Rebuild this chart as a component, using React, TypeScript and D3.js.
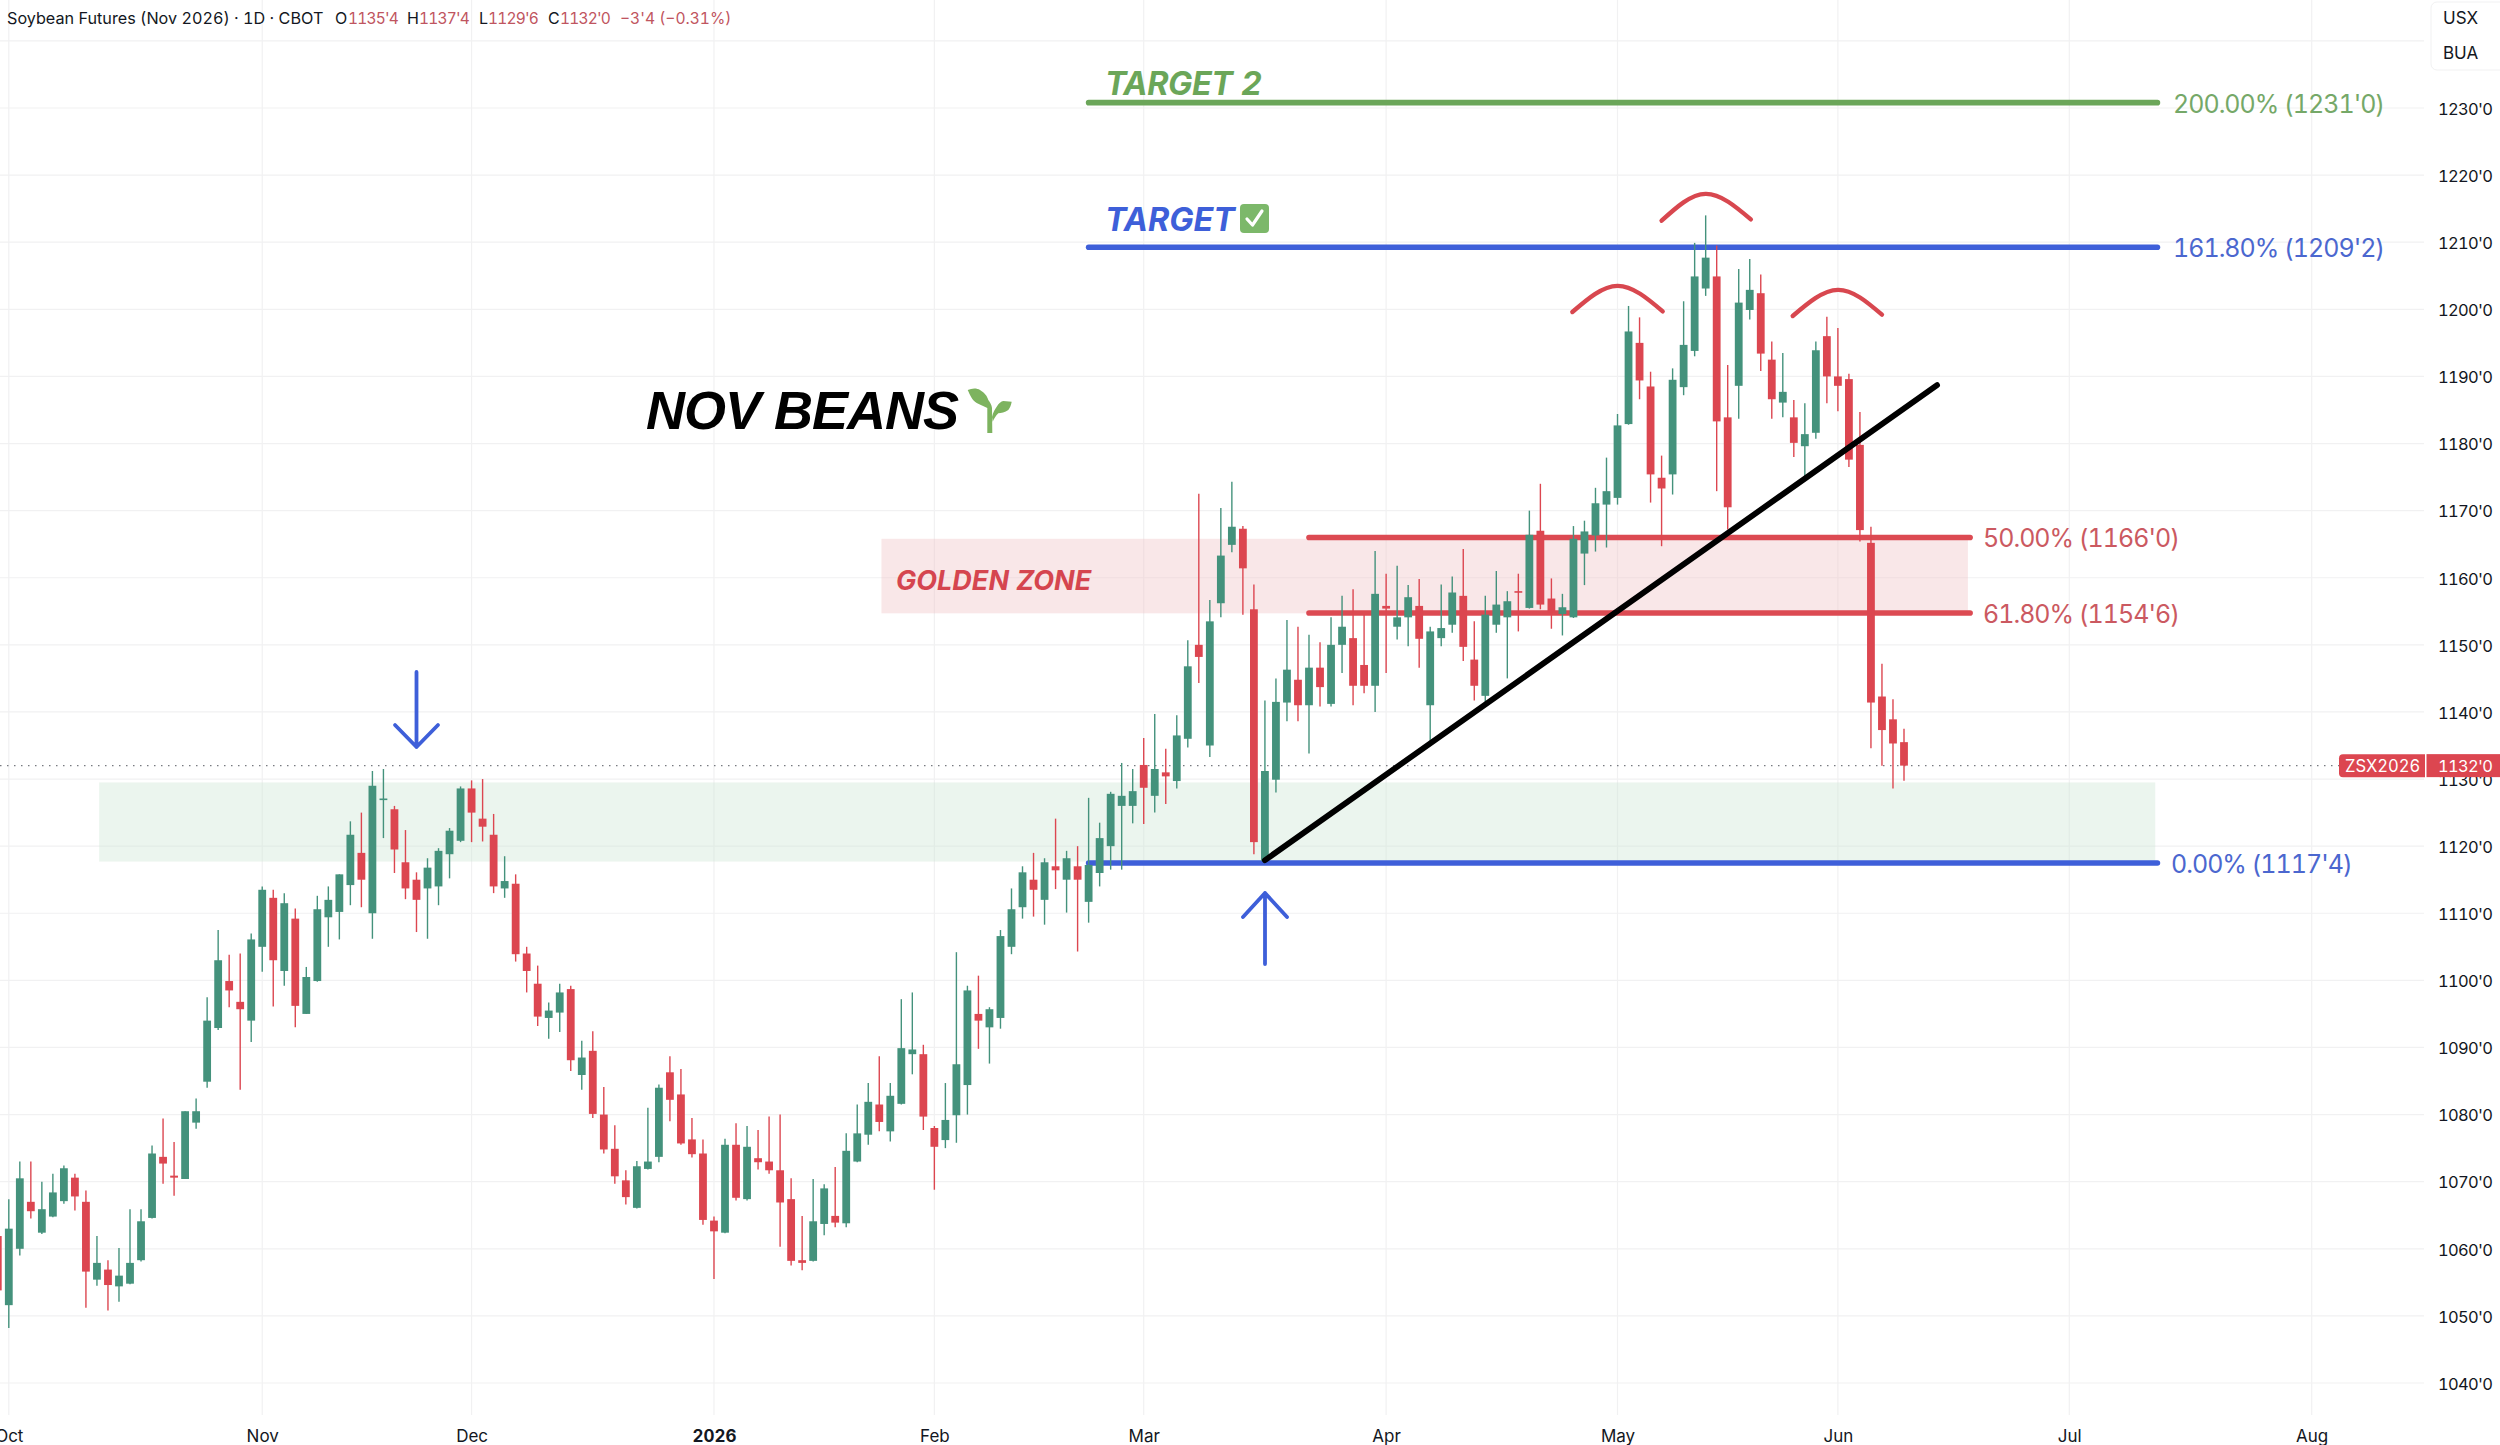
import React, { useEffect, useRef } from "react";
import * as d3 from "d3";

// daily bars (first bar is the one cut by the left edge)
const opens = [
  1061.9,
  1051.6, 1060, 1067, 1062.4, 1064.8, 1067.1, 1070.6, 1067, 1055.4, 1056.9,
  1054.4, 1054.8, 1058.3, 1064.6, 1073.7, 1070.9, 1070.4, 1078.8, 1084.9, 1092.9,
  1099.9, 1096.8, 1094, 1105, 1112.3, 1101.4, 1109.2, 1095, 1099.9, 1109.4,
  1110.2, 1114.2, 1119, 1110, 1126.9, 1125.5, 1117.6, 1115, 1113.7, 1114,
  1118.8, 1120.8, 1128.6, 1124.1, 1121.7, 1113.7, 1114.4, 1104, 1099.5, 1094.4,
  1095.2, 1098.7, 1085.9, 1089.5, 1080, 1074.9, 1070.2, 1066.1, 1071.9, 1073.7,
  1086.3, 1083, 1076.3, 1074.2, 1064.2, 1062.4, 1075.5, 1067.4, 1073.5, 1073,
  1071.7, 1067.4, 1058.3, 1058.2, 1063.7, 1064.9, 1063.8, 1073, 1077, 1081.5,
  1077.5, 1081.6, 1089, 1089, 1078, 1076.2, 1079.9, 1084.4, 1095, 1093,
  1094.4, 1105, 1110.9, 1115, 1112, 1117, 1115, 1117, 1111.7, 1116,
  1120, 1126, 1126, 1132.1, 1127.5, 1131, 1129.7, 1136, 1150, 1135,
  1156.2, 1164.9, 1167.3, 1155.3, 1117.8, 1129.9, 1141.4, 1144.8, 1141, 1146.6,
  1141.2, 1150, 1151, 1147, 1143.9, 1155.8, 1152.7, 1154.1, 1155.8, 1141,
  1151, 1153, 1157.3, 1147.8, 1142.4, 1153, 1154.1, 1158, 1155.5, 1167,
  1156.9, 1154.6, 1154.1, 1163.6, 1166.3, 1170.9, 1171.9, 1182.9, 1195, 1188.5,
  1174.9, 1175.4, 1188.4, 1193.8, 1203.1, 1204.9, 1183.9, 1188.6, 1199.9, 1202.4,
  1192.5, 1186.1, 1183.9, 1179.6, 1181.6, 1196, 1190, 1189.6, 1179.8, 1165.2,
  1142.3, 1138.9, 1135.5,
];
const highs = [
  1067,
  1067.4, 1073, 1073, 1070, 1071.2, 1072.4, 1071.2, 1068.7, 1061.9, 1058.3,
  1060.1, 1065.9, 1065.9, 1075.4, 1079.4, 1075.9, 1080.5, 1082.4, 1097.5, 1107.5,
  1103.8, 1104, 1107, 1114, 1113.5, 1113, 1110.7, 1102, 1112.6, 1114,
  1115.8, 1123.7, 1125, 1131.2, 1131.5, 1126, 1122.4, 1116.1, 1118.2, 1119.7,
  1122.7, 1128.9, 1129.8, 1130, 1124.8, 1118.5, 1115.8, 1105, 1102.2, 1096.7,
  1099.5, 1099.2, 1091, 1092.4, 1084.1, 1078.4, 1071.7, 1073.1, 1081, 1084.5,
  1088.7, 1086.8, 1079.5, 1076.3, 1064.8, 1076.4, 1078.7, 1078.3, 1077.7, 1079.7,
  1080, 1070.5, 1064.9, 1070.4, 1069.6, 1072.2, 1077.2, 1081.5, 1084.7, 1088.7,
  1084.7, 1097.2, 1098.2, 1090.4, 1078.3, 1084.7, 1104.2, 1099.2, 1100.7, 1096,
  1107.5, 1113.7, 1117, 1119, 1118.2, 1124.1, 1119.3, 1120, 1127.2, 1123.5,
  1128.1, 1132.4, 1131.5, 1136.1, 1139.7, 1134.5, 1139.5, 1150.7, 1172.5, 1156.7,
  1170.4, 1174.3, 1167.7, 1159, 1141.7, 1145, 1153.7, 1152.7, 1151.5, 1150.4,
  1154.1, 1157.3, 1158.3, 1154.5, 1164, 1160.6, 1161.8, 1158.9, 1159.8, 1152.7,
  1159, 1160.2, 1164.3, 1153.5, 1157.3, 1161, 1158, 1160.6, 1170, 1174,
  1159.9, 1157.6, 1167.7, 1168.5, 1173.4, 1177.9, 1184.4, 1200.5, 1198.8, 1190.7,
  1178.2, 1191.2, 1201.2, 1209.9, 1214, 1209.5, 1191.7, 1206, 1207.5, 1205.2,
  1195.2, 1193.5, 1186.5, 1186, 1195.2, 1198.9, 1197.2, 1190.4, 1184.7, 1167.6,
  1147.2, 1141.9, 1137.5,
];
const lows = [
  1051,
  1048.2, 1059, 1064.5, 1062.2, 1064.7, 1066.7, 1065.7, 1051.2, 1054.5, 1050.8,
  1052.1, 1054.7, 1058.1, 1064.5, 1069.7, 1067.9, 1070.4, 1077.9, 1084, 1092.6,
  1096, 1083.7, 1090.8, 1101.3, 1096.1, 1099.2, 1093, 1095, 1099.8, 1105,
  1106.1, 1111.2, 1110.9, 1106.2, 1121.2, 1116, 1112.1, 1107.2, 1106.2, 1111.2,
  1115.2, 1120.6, 1120.6, 1120.7, 1113, 1112.3, 1102.8, 1098.2, 1093.2, 1091.3,
  1092.3, 1086.5, 1083.7, 1079.5, 1074.2, 1069.7, 1066.6, 1066, 1071.8, 1072.9,
  1079, 1075.5, 1073.6, 1063.6, 1055.5, 1062.3, 1067.2, 1067.2, 1071.8, 1071.2,
  1060.3, 1057.5, 1056.8, 1058.1, 1062, 1063.2, 1063.2, 1072.9, 1075.5, 1077.5,
  1076, 1081.5, 1086, 1077.7, 1068.8, 1075, 1075.8, 1080, 1089.8, 1087.6,
  1092.8, 1103.9, 1109.2, 1109.5, 1108.3, 1113.6, 1110.1, 1104.3, 1108.6, 1114,
  1116.5, 1116.5, 1123.4, 1123.3, 1125, 1126.3, 1128.6, 1134.7, 1144.3, 1133.3,
  1154.1, 1163.8, 1154.5, 1118.8, 1117.5, 1128, 1138.6, 1138.6, 1133.8, 1140.8,
  1140.8, 1145.8, 1141, 1142.8, 1140, 1145.8, 1150.8, 1149.8, 1146.6, 1135.1,
  1149.8, 1151.8, 1147.6, 1141.7, 1141, 1151.8, 1145, 1152, 1155.4, 1155.3,
  1152.4, 1151.4, 1154, 1158.9, 1163.9, 1164.5, 1170.9, 1182.8, 1186.6, 1171.2,
  1164.7, 1172.4, 1187.2, 1193, 1202, 1172.9, 1167.2, 1183.7, 1198.5, 1190.8,
  1183.7, 1183.9, 1178, 1175.1, 1180.7, 1186, 1184.8, 1176.5, 1165.4, 1134.6,
  1132, 1128.6, 1129.75,
];
const closes = [
  1053.8,
  1063, 1070.5, 1065.6, 1065.9, 1068.4, 1072, 1067.8, 1056.6, 1057.9, 1054.6,
  1056, 1057.9, 1064.1, 1074.2, 1072.7, 1070.6, 1080.5, 1080.5, 1094, 1103,
  1098.5, 1095.7, 1106.1, 1113.5, 1103, 1111.5, 1096.2, 1100.5, 1110.6, 1112,
  1115.8, 1121.7, 1115, 1129, 1127.1, 1119.5, 1113.7, 1112, 1116.8, 1119.3,
  1122.3, 1128.6, 1125, 1122.9, 1114, 1114.8, 1103.9, 1101.4, 1094.6, 1095.5,
  1098.2, 1088.1, 1088.5, 1080.1, 1074.8, 1070.8, 1067.7, 1072.3, 1073, 1084,
  1082.2, 1075.7, 1074.1, 1064.3, 1062.6, 1075.5, 1067.6, 1075.2, 1072.9, 1071.7,
  1066.9, 1058.2, 1057.9, 1064.1, 1069, 1063.9, 1074.6, 1077.2, 1081.9, 1078.9,
  1082.8, 1089.9, 1089.7, 1079.7, 1075.2, 1079.2, 1087.5, 1098.5, 1094, 1095.7,
  1106.6, 1110.6, 1116.1, 1113.5, 1117.6, 1116.4, 1118.2, 1115, 1117.2, 1121.2,
  1127.8, 1127.5, 1128.2, 1128.7, 1131.5, 1130.4, 1136.5, 1146.8, 1148.2, 1153.5,
  1163.3, 1167.6, 1161.4, 1120.6, 1131.2, 1141.5, 1146.3, 1141, 1146.6, 1143.7,
  1150, 1152.7, 1143.9, 1143.9, 1157.6, 1155.4, 1154.1, 1157.1, 1150.9, 1152,
  1152.5, 1157.8, 1149.7, 1143.9, 1154.5, 1156, 1156.5, 1157.8, 1166.4, 1156,
  1154.8, 1155.6, 1165.8, 1166.9, 1171.1, 1172.9, 1182.7, 1196.7, 1189.4, 1175.4,
  1173.3, 1189.5, 1194.7, 1204.9, 1207.7, 1183.3, 1170.5, 1201, 1202.9, 1193.4,
  1186.6, 1187.7, 1180.1, 1181.4, 1193.9, 1190, 1188.6, 1177.6, 1167.1, 1141.4,
  1137.3, 1135.3, 1132,
];

const priceTicks = [1230, 1220, 1210, 1200, 1190, 1180, 1170, 1160, 1150, 1140, 1130, 1120, 1110, 1100, 1090, 1080, 1070, 1060, 1050, 1040];
const gridPrices = [1240, ...priceTicks];
const monthLabels = ["Oct", "Nov", "Dec", "2026", "Feb", "Mar", "Apr", "May", "Jun", "Jul", "Aug"];
const monthBars = [0, 23, 42, 64, 84, 103, 125, 146, 166, 187, 209];

// fib levels: label, price, colour
const fibLabels = ["200.00% (1231'0)", "161.80% (1209'2)", "50.00% (1166'0)", "61.80% (1154'6)", "0.00% (1117'4)"];
const fibPrices = [1230.8, 1209.25, 1166, 1154.75, 1117.5];
const fibStart = [98, 98, 118, 118, 98];
const fibEnd = [195, 195, 178, 178, 195];
const fibColors = ["#6ba659", "#3e5fd9", "#dc4a52", "#dc4a52", "#3e5fd9"];
const fibTextColors = ["#75a868", "#4b67cf", "#cb5961", "#cb5961", "#4b67cf"];

// head and shoulders arcs
const arcBars = [[141.9, 146, 150.1], [150, 154, 158.1], [161.9, 166, 170]];
const arcPrices = [[1199.6, 1203.5, 1199.7], [1213.2, 1217.2, 1213.4], [1199, 1202.9, 1199.2]];

const trendBars = [114, 175];
const trendPrices = [1117.9, 1188.7];

const GREEN = "#44927c";
const RED = "#dc4650";
const SANS = "Inter, 'Noto Sans', sans-serif";

const App: React.FC = () => {
  const svgRef = useRef<SVGSVGElement | null>(null);

  useEffect(() => {
    if (!svgRef.current) return;
    const svg = d3.select(svgRef.current);
    svg.selectAll("*").remove();
    svg.style("font-variant-numeric", "tabular-nums");

    const x = d3.scaleLinear().domain([0, 172]).range([8.8, 1904]);
    const y = d3.scaleLinear().domain([1230, 1040]).range([108, 1383]);

    const text = (
      label: string,
      tx: number,
      ty: number,
      size: number,
      fill: string,
      extra: Record<string, string | number> = {}
    ) => {
      const t = svg
        .append("text")
        .attr("x", tx)
        .attr("y", ty)
        .attr("dy", "0.36em")
        .attr("font-size", size)
        .attr("font-family", SANS)
        .attr("fill", fill)
        .text(label);
      Object.entries(extra).forEach(([k, v]) => t.attr(k, v));
      return t;
    };

    svg.append("rect").attr("width", 2500).attr("height", 1445).attr("fill", "#fff");

    // grid
    svg.append("g")
      .selectAll("line")
      .data(gridPrices)
      .join("line")
      .attr("x1", 0)
      .attr("x2", 2424)
      .attr("y1", (d) => y(d))
      .attr("y2", (d) => y(d))
      .attr("stroke", "#f1f1f2")
      .attr("stroke-width", 1.2);
    svg.append("g")
      .selectAll("line")
      .data(monthBars)
      .join("line")
      .attr("x1", (d) => x(d))
      .attr("x2", (d) => x(d))
      .attr("y1", 0)
      .attr("y2", 1415)
      .attr("stroke", "#f1f1f2")
      .attr("stroke-width", 1.2);

    // zones
    const zone = (b0: number, b1: number, p0: number, p1: number, fill: string) =>
      svg.append("rect")
        .attr("x", x(b0))
        .attr("width", x(b1) - x(b0))
        .attr("y", y(p0))
        .attr("height", y(p1) - y(p0))
        .attr("fill", fill)
        .attr("fill-opacity", 0.4);
    zone(8.2, 194.8, 1129.5, 1117.7, "#cde6d4");
    zone(79.2, 177.8, 1165.8, 1154.7, "#f0c3c6");

    // last price line
    svg.append("line")
      .attr("x1", 0)
      .attr("x2", 2339)
      .attr("y1", y(closes[closes.length - 1]))
      .attr("y2", y(closes[closes.length - 1]))
      .attr("stroke", "#777a80")
      .attr("stroke-width", 1.4)
      .attr("stroke-dasharray", "1.5 5.5");

    // fib levels
    svg.append("g")
      .selectAll("line")
      .data(fibPrices)
      .join("line")
      .attr("x1", (_, i) => x(fibStart[i]))
      .attr("x2", (_, i) => x(fibEnd[i]))
      .attr("y1", (d) => y(d))
      .attr("y2", (d) => y(d))
      .attr("stroke", (_, i) => fibColors[i])
      .attr("stroke-width", 5.6)
      .attr("stroke-linecap", "round");

    // candles, first bar sits one step left of index 0
    const bars = svg.append("g");
    opens.forEach((o, j) => {
      const i = j - 1;
      const c = closes[j];
      const color = c >= o ? GREEN : RED;
      bars.append("line")
        .attr("x1", x(i))
        .attr("x2", x(i))
        .attr("y1", y(highs[j]))
        .attr("y2", y(lows[j]))
        .attr("stroke", color)
        .attr("stroke-width", 1.4);
      bars.append("rect")
        .attr("x", x(i) - 3.9)
        .attr("width", 7.8)
        .attr("y", y(Math.max(o, c)))
        .attr("height", Math.max(1.6, Math.abs(y(o) - y(c))))
        .attr("fill", color);
    });

    // trend line
    svg.append("line")
      .attr("x1", x(trendBars[0]))
      .attr("y1", y(trendPrices[0]))
      .attr("x2", x(trendBars[1]))
      .attr("y2", y(trendPrices[1]))
      .attr("stroke", "#000")
      .attr("stroke-width", 5.8)
      .attr("stroke-linecap", "round");

    // arcs over the three peaks
    const arcLine = d3.line<[number, number]>()
      .x((d) => x(d[0]))
      .y((d) => y(d[1]))
      .curve(d3.curveNatural);
    arcBars.forEach((b, k) => {
      svg.append("path")
        .attr("d", arcLine(b.map((v, i) => [v, arcPrices[k][i]] as [number, number])))
        .attr("fill", "none")
        .attr("stroke", "#d8474f")
        .attr("stroke-width", 4.4)
        .attr("stroke-linecap", "round");
    });

    // blue arrows
    const arrow = (d: string) =>
      svg.append("path")
        .attr("d", d)
        .attr("fill", "none")
        .attr("stroke", "#3e5fd9")
        .attr("stroke-width", 3.8)
        .attr("stroke-linecap", "round")
        .attr("stroke-linejoin", "round");
    arrow("M416.5,672V747M395,725L416.5,747L438,725");
    arrow("M1265,964V893M1243,917L1265,893L1287,917");

    // y axis
    const yAxis = svg.append("g")
      .attr("transform", "translate(2438,1)")
      .call(d3.axisRight(y).tickValues(priceTicks).tickSize(0).tickPadding(0).tickFormat((d) => `${d}'0`));
    yAxis.select(".domain").remove();
    yAxis.selectAll("text")
      .attr("font-size", 16.5)
      .attr("letter-spacing", -0.7)
      .attr("font-family", SANS)
      .attr("fill", "#131722");

    // x axis
    const xAxis = svg.append("g")
      .attr("transform", "translate(0,1430)")
      .call(
        d3.axisBottom(x)
          .tickValues(monthBars)
          .tickSize(0)
          .tickPadding(0)
          .tickFormat((_, i) => monthLabels[i])
      );
    xAxis.select(".domain").remove();
    xAxis.selectAll("text")
      .attr("font-size", 17)
      .attr("font-family", SANS)
      .attr("fill", "#131722")
      .attr("font-weight", (d) => (d === 64 ? 700 : 400));

    // last price tag
    const tagY = y(closes[closes.length - 1]);
    svg.append("path")
      .attr("d", `M2425,${tagY - 11.5}H2343a4,4 0 0 0 -4,4V${tagY + 7.5}a4,4 0 0 0 4,4H2425Z`)
      .attr("fill", "#dc4650");
    svg.append("rect").attr("x", 2426.5).attr("y", tagY - 11.5).attr("width", 74).attr("height", 23).attr("fill", "#dc4650");
    text("ZSX2026", 2345, tagY, 16.6, "#fff");
    text("1132'0", 2438, tagY, 16.5, "#fff", { "letter-spacing": -0.7 });

    // currency and unit box
    svg.append("rect")
      .attr("x", 2431)
      .attr("y", 2)
      .attr("width", 80)
      .attr("height", 68)
      .attr("rx", 6)
      .attr("fill", "#fff")
      .attr("stroke", "#f1f1f2");
    text("USX", 2443, 18, 17, "#131722");
    text("BUA", 2443, 53, 17, "#131722");

    // legend row
    const UP = "#bf5560";
    text("Soybean Futures (Nov 2026) · 1D · CBOT", 7, 18, 16.2, "#131722");
    const legendKeys = ["O", "H", "L", "C"];
    const legendKeyX = [335, 407, 479, 548];
    const legendVals = ["1135'4", "1137'4", "1129'6", "1132'0"];
    const legendValX = [348, 419, 488, 560];
    legendKeys.forEach((k, i) => {
      text(k, legendKeyX[i], 18, 16, "#131722");
      text(legendVals[i], legendValX[i], 18, 15.5, UP, { "letter-spacing": -0.8 });
    });
    text("−3'4 (−0.31%)", 620, 18, 15.6, UP);

    // fib labels
    const labelX = [2173, 2173, 1983, 1983, 2171];
    fibLabels.forEach((l, i) => {
      text(l, labelX[i], y(fibPrices[i]) + 1, 25, fibTextColors[i], { "letter-spacing": -1 });
    });

    // annotations
    const bold = { "font-weight": 700, "font-style": "italic" };
    text("TARGET 2", 1105, 83, 32.4, "#6ba659", { ...bold, "letter-spacing": -0.4 });
    text("TARGET", 1105, 219, 32.4, "#3e5fd9", bold);
    text("GOLDEN ZONE", 896, 580, 27, "#d5454f", bold);
    text("NOV BEANS", 646, 410, 54, "#000", {
      ...bold,
      "font-family": "'Liberation Sans', sans-serif",
      "letter-spacing": -1,
    });

    // check mark box
    svg.append("rect").attr("x", 1240).attr("y", 204).attr("width", 29).attr("height", 29).attr("rx", 4).attr("fill", "#7cb86a");
    svg.append("path")
      .attr("d", "M1247,219L1252.5,225L1262,211")
      .attr("fill", "none")
      .attr("stroke", "#fff")
      .attr("stroke-width", 3.2)
      .attr("stroke-linecap", "round")
      .attr("stroke-linejoin", "round");

    // seedling
    svg.append("path")
      .attr("d", "M967.7,390C972,388 977,388 980,390C985,393 987,396 988.3,400C990,402 991.7,405 992,408L992.3,433H987.3V408C984,406 980,405 976.7,403C972,400 970,395 967.7,390Z")
      .attr("fill", "#7db35f");
    svg.append("path")
      .attr("d", "M992,417C993,412 995,409 996.7,406.7C999,403 1001,401.5 1003.3,401L1011.7,401.7C1011,405 1010,408 1008.3,410C1005,412.5 1001,413 998.3,413.3C995.5,416 994,419 992.7,421.7Z")
      .attr("fill", "#7db35f");
  }, []);

  return (
    <svg
      ref={svgRef}
      width={2500}
      height={1445}
      style={{ position: "absolute", left: 0, top: 0, display: "block" }}
    ></svg>
  );
};

export default App;
